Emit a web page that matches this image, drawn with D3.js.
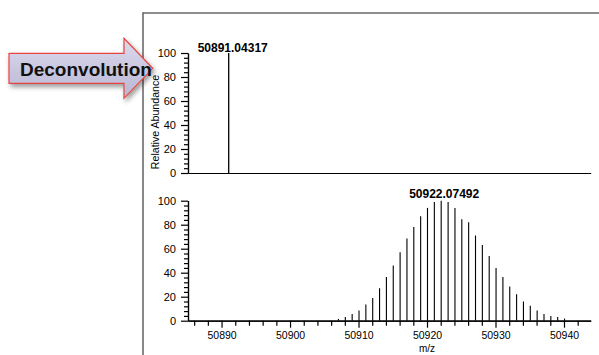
<!DOCTYPE html>
<html>
<head>
<meta charset="utf-8">
<script src="https://cdn.jsdelivr.net/npm/d3@7"></script>
<style>
  html, body { margin: 0; padding: 0; background: #fff; }
  svg { display: block; font-family: "Liberation Sans", Arial, Helvetica, sans-serif; }
</style>
</head>
<body>
<svg id="chart" width="599" height="355"></svg>
<script>
// ---- data ----
const deconvMz = [50891.04317];
const deconvAbund = [100];
const deconvLabel = "50891.04317";

const isoMz = [50907.07, 50908.07, 50909.07, 50910.07, 50911.07, 50912.07, 50913.07, 50914.07,
  50915.07, 50916.07, 50917.07, 50918.07, 50919.07, 50920.07, 50921.07, 50922.07,
  50923.08, 50924.08, 50925.08, 50926.08, 50927.08, 50928.08, 50929.08, 50930.08,
  50931.08, 50932.08, 50933.08, 50934.08, 50935.08, 50936.08, 50937.08, 50938.08,
  50939.08, 50940.08];
const isoAbund = [1.5, 3, 5.5, 8.5, 13.5, 19, 27, 36.5,
  46, 57, 68.5, 78, 87, 94, 99, 100,
  99, 94, 84.5, 82, 71, 63, 54, 44,
  36.5, 28.5, 22, 16, 12.5, 8.5, 5.5, 4,
  3, 1.8];
const isoLabel = "50922.07492";

const xMajorTicks = [50890, 50900, 50910, 50920, 50930, 50940];
const xMinorTicks = [50886, 50888, 50892, 50894, 50896, 50898, 50902, 50904, 50906, 50908,
  50912, 50914, 50916, 50918, 50922, 50924, 50926, 50928, 50932, 50934, 50936, 50938, 50942];
const yMajorTicks = [0, 20, 40, 60, 80, 100];
const yMinorTicks = [4, 8, 12, 16, 24, 28, 32, 36, 44, 48, 52, 56, 64, 68, 72, 76, 84, 88, 92, 96];
const xDomain = [50885.1, 50943.9];

const yTitle = "Relative Abundance";
const xTitle = "m/z";
const arrowText = "Deconvolution";

// ---- drawing ----
const svg = d3.select("#chart");
const defs = svg.append("defs");

const grad = defs.append("linearGradient").attr("id", "arrowFill")
  .attr("x1", 0).attr("y1", 0).attr("x2", 0).attr("y2", 1);
grad.append("stop").attr("offset", "0%").attr("stop-color", "#dcdaee");
grad.append("stop").attr("offset", "100%").attr("stop-color", "#b9b6d3");

const shadow = defs.append("filter").attr("id", "shadow")
  .attr("x", "-20%").attr("y", "-20%").attr("width", "150%").attr("height", "160%");
shadow.append("feGaussianBlur").attr("in", "SourceAlpha").attr("stdDeviation", 2.5).attr("result", "b");
shadow.append("feOffset").attr("in", "b").attr("dx", 2).attr("dy", 3).attr("result", "o");
shadow.append("feComponentTransfer").attr("in", "o").attr("result", "o2")
  .append("feFuncA").attr("type", "linear").attr("slope", 0.4);
const merge = shadow.append("feMerge");
merge.append("feMergeNode").attr("in", "o2");
merge.append("feMergeNode").attr("in", "SourceGraphic");

// Frame lines
const frame = svg.append("g");
frame.append("line").attr("x1", 143).attr("x2", 599).attr("y1", 13).attr("y2", 13)
  .attr("stroke", "#6a6a6a").attr("stroke-width", 1.6);
frame.append("line").attr("x1", 143).attr("x2", 143).attr("y1", 12.2).attr("y2", 355)
  .attr("stroke", "#6a6a6a").attr("stroke-width", 1.6);

const x = d3.scaleLinear().domain(xDomain).range([188, 590.7]);
const yTop = d3.scaleLinear().domain([0, 100]).range([173, 53]);
const yBot = d3.scaleLinear().domain([0, 100]).range([320.7, 200.7]);

function drawYAxis(yScale) {
  const g = svg.append("g").attr("transform", "translate(188,0)");
  g.call(d3.axisLeft(yScale).tickValues(yMinorTicks).tickSize(4).tickSizeOuter(0).tickFormat(""));
  const gM = svg.append("g").attr("transform", "translate(188,0)");
  gM.call(d3.axisLeft(yScale).tickValues(yMajorTicks).tickSize(7).tickSizeOuter(0).tickPadding(5));
  [g, gM].forEach(a => {
    a.selectAll("path, line").attr("stroke", "#000").attr("stroke-width", 1.2);
  });
  gM.selectAll("text").attr("font-size", 11).attr("fill", "#000")
    .attr("font-family", "'Liberation Sans', Arial, sans-serif");
}

// Top panel
drawYAxis(yTop);
svg.append("g").attr("transform", "translate(0,173)")
  .call(d3.axisBottom(x).tickValues([]).tickSizeOuter(0))
  .selectAll("path").attr("stroke", "#000").attr("stroke-width", 1.2);

svg.append("g").selectAll("line").data(deconvMz).join("line")
  .attr("x1", d => x(d)).attr("x2", d => x(d))
  .attr("y1", yTop(0)).attr("y2", (d, i) => yTop(deconvAbund[i]))
  .attr("stroke", "#000").attr("stroke-width", 1.3);
svg.append("text").attr("x", x(deconvMz[0]) + 4).attr("y", yTop(100) - 1.5)
  .attr("text-anchor", "middle").attr("font-weight", "bold").attr("font-size", 12)
  .text(deconvLabel);

// Bottom panel
drawYAxis(yBot);
const gxMinor = svg.append("g").attr("transform", "translate(0,320.7)")
  .call(d3.axisBottom(x).tickValues(xMinorTicks).tickSize(5).tickSizeOuter(0).tickFormat(""));
const gxMajor = svg.append("g").attr("transform", "translate(0,320.7)")
  .call(d3.axisBottom(x).tickValues(xMajorTicks).tickSize(7).tickSizeOuter(0).tickPadding(4).tickFormat(d3.format("d")));
[gxMinor, gxMajor].forEach(a => a.selectAll("path, line").attr("stroke", "#000").attr("stroke-width", 1.2));
gxMajor.selectAll("text").attr("font-size", 10.5).attr("fill", "#000")
  .attr("font-family", "'Liberation Sans', Arial, sans-serif");

svg.append("g").selectAll("line").data(isoMz).join("line")
  .attr("x1", d => x(d)).attr("x2", d => x(d))
  .attr("y1", yBot(0)).attr("y2", (d, i) => yBot(isoAbund[i]))
  .attr("stroke", "#000").attr("stroke-width", 1.1);
svg.append("text").attr("x", x(50922.07) + 3).attr("y", yBot(100) - 2.5)
  .attr("text-anchor", "middle").attr("font-weight", "bold").attr("font-size", 12)
  .text(isoLabel);

// Axis titles
svg.append("text").attr("transform", "translate(159,122) rotate(-90)")
  .attr("text-anchor", "middle").attr("font-size", 10.6).text(yTitle);
svg.append("text").attr("x", 427).attr("y", 352)
  .attr("text-anchor", "middle").attr("font-size", 10).text(xTitle);

// Arrow
const arrowPts = [[9, 53.3], [124, 53.3], [124, 38.3], [152.7, 68.3], [124, 98.3], [124, 83.3], [9, 83.3]];
svg.append("path")
  .attr("d", d3.line()(arrowPts) + "Z")
  .attr("fill", "url(#arrowFill)").attr("stroke", "#e8453f").attr("stroke-width", 1.2)
  .attr("filter", "url(#shadow)");
svg.append("text").attr("x", 20).attr("y", 75.5)
  .attr("font-weight", "bold").attr("font-size", 19).attr("fill", "#111")
  .text(arrowText);
</script>
</body>
</html>
